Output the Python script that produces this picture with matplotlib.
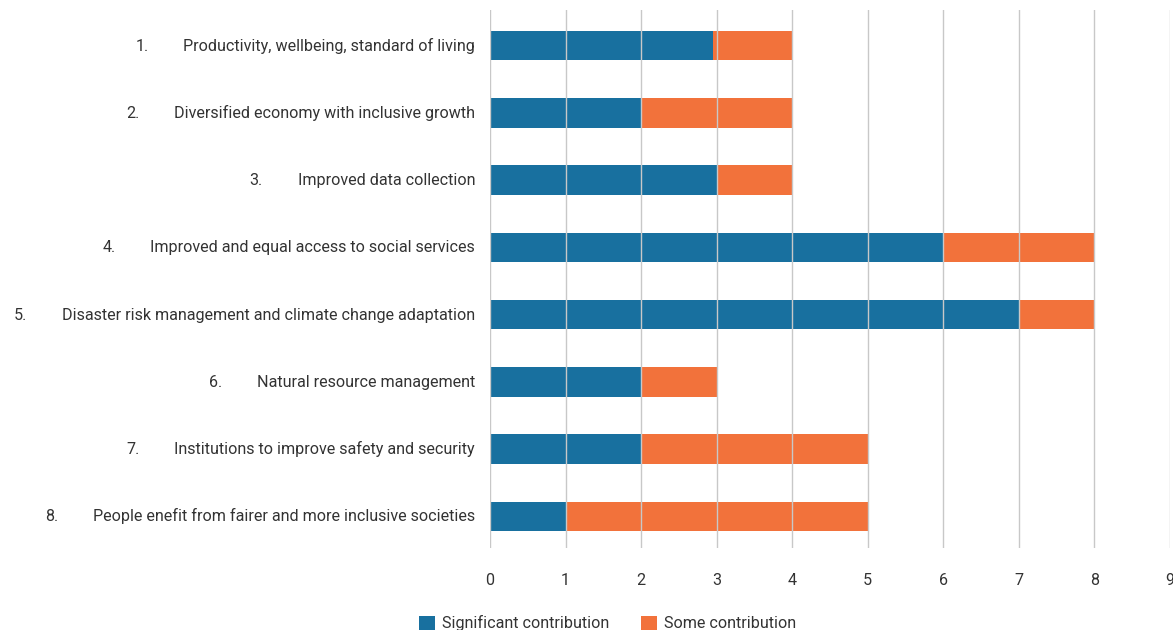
import matplotlib.pyplot as plt
import numpy as np

plt.rcParams['font.family'] = ['Roboto', 'DejaVu Sans']

numbers = ["1.", "2.", "3.", "4.", "5.", "6.", "7.", "8."]
labels = [
    "Productivity, wellbeing, standard of living",
    "Diversified economy with inclusive growth",
    "Improved data collection",
    "Improved and equal access to social services",
    "Disaster risk management and climate change adaptation",
    "Natural resource management",
    "Institutions to improve safety and security",
    "People enefit from fairer and more inclusive societies",
]
significant = [2.95, 2, 3, 6, 7, 2, 2, 1]
some = [1.05, 2, 1, 2, 1, 1, 3, 4]

blue = "#18709f"
orange = "#f2723b"
txt = "#333333"
fs = 11.6

fig = plt.figure(figsize=(11.73, 6.3), dpi=100)
ax = fig.add_axes([490 / 1173, 1 - 548 / 630, 680 / 1173, 538 / 630])

y = np.arange(len(labels))
ax.barh(y, significant, height=0.44, color=blue, label="Significant contribution", zorder=2)
ax.barh(y, some, left=significant, height=0.44, color=orange, label="Some contribution", zorder=2)

ax.set_xlim(0, 9)
ax.set_ylim(len(labels) - 0.5 - 0.03, -0.5 - 0.03)
ax.set_xticks(range(10))
ax.grid(axis="x", color="#c8c8c8", linewidth=1, zorder=3)
ax.set_axisbelow(False)
for s in ax.spines.values():
    s.set_visible(False)
ax.tick_params(axis="x", length=0, pad=18, labelsize=fs, labelcolor=txt)
ax.set_yticks([])

renderer = fig.canvas.get_renderer()
for i, (n, lab) in enumerate(zip(numbers, labels)):
    t = ax.text(-15 / 680 * 9, i + 0.075, lab, ha="right", va="baseline", fontsize=fs, color=txt)
    bb = t.get_window_extent(renderer)
    x0 = ax.transData.inverted().transform((bb.x0 - 48, 0))[0]
    ax.text(x0, i + 0.075, n, ha="left", va="baseline", fontsize=fs, color=txt)

fig.legend(loc="lower center", bbox_to_anchor=(0.518, -0.025), ncol=2, frameon=False,
           fontsize=fs, handlelength=1.0, handleheight=1.0, handletextpad=0.4,
           columnspacing=2.0, labelcolor=txt)

fig.savefig("out.png", dpi=100)
